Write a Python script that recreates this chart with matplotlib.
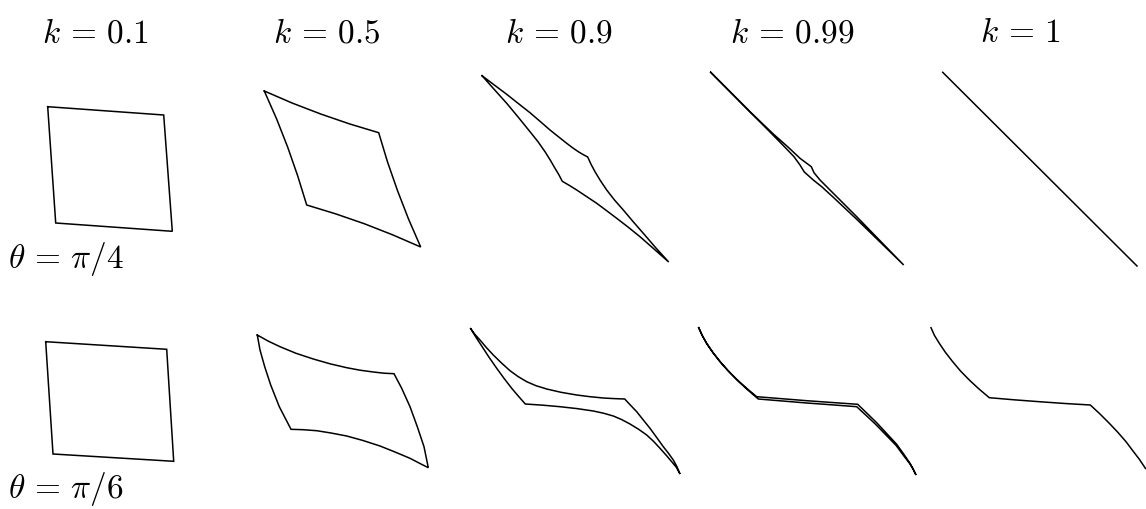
import numpy as np
from matplotlib import pyplot as plt

plt.rcParams["mathtext.fontset"] = "cm"

# column / row labels
k_values = ["0.1", "0.5", "0.9", "0.99", "1"]
theta_values = [r"\pi/4", r"\pi/6"]
label_x = [95, 327, 559, 792, 1020]
label_y = 42
theta_label_y = [268, 498]

# outlines, in image pixels (x, y), y pointing down
# row 1: theta = pi/4
pi4_k01 = [(47.7, 106.7), (163.7, 115.0), (172.3, 231.3), (55.7, 223.0)]
pi4_k05 = [(264.3, 91.0), (292.3, 103.1), (320.7, 114.0), (349.5, 123.9), (378.7, 132.7),
           (387.5, 161.9), (397.5, 190.6), (408.5, 219.0), (420.7, 247.0),
           (392.8, 234.9), (364.5, 223.8), (335.8, 213.9), (306.7, 205.0),
           (297.7, 175.9), (287.7, 147.2), (276.6, 118.9)]
pi4_k09 = [(482.0, 75.7), (494.3, 85.0), (506.7, 94.3), (518.3, 103.5), (530.0, 112.7),
           (540.0, 121.3), (550.0, 130.0), (558.5, 136.8), (566.7, 143.3), (572.5, 147.7),
           (578.3, 151.7), (583.0, 154.5), (587.7, 157.0),
           (591.0, 164.2), (595.0, 171.7), (600.5, 180.8), (606.7, 190.0), (614.5, 200.0),
           (623.3, 210.0), (633.0, 221.5), (643.3, 233.3), (655.5, 247.5), (668.7, 262.0),
           (654.0, 249.0), (640.0, 236.7), (628.0, 227.0), (616.7, 218.3), (606.5, 210.6),
           (596.7, 203.3), (586.5, 196.5), (576.7, 190.0), (569.5, 185.5), (562.3, 181.3),
           (558.8, 174.6), (555.0, 168.3), (550.2, 160.0), (545.0, 151.7), (538.0, 141.7),
           (530.0, 131.7), (518.5, 117.5), (506.7, 103.3), (494.3, 89.5)]
pi4_k099 = [(710.7, 72.3), (750.0, 111.7), (773.3, 134.0), (788.3, 147.3), (800.0, 158.3),
            (811.3, 166.7), (814.0, 172.7), (820.0, 180.0), (833.3, 193.3), (856.7, 216.7),
            (903.7, 265.0),
            (856.7, 219.3), (833.3, 197.3), (821.7, 186.7), (813.3, 180.0), (804.3, 172.0),
            (800.0, 165.0), (794.0, 156.7), (785.0, 147.3), (770.0, 132.0)]
pi4_k1 = [(942.7, 72.3), (1137.0, 266.0)]

# row 2: theta = pi/6
pi6_k01 = [(45.7, 341.7), (166.7, 349.3), (173.7, 461.3), (53.0, 454.0)]
pi6_k05 = [(257.3, 335.0), (268.0, 341.0), (280.0, 346.7), (296.0, 353.3), (313.3, 359.0),
           (330.0, 363.8), (346.7, 367.7), (360.0, 370.2), (373.3, 372.0), (384.0, 373.2),
           (394.0, 373.7),
           (401.7, 388.3), (410.0, 406.7), (417.3, 426.7), (424.0, 446.7), (428.3, 467.7),
           (420.0, 463.5), (410.0, 458.3), (395.0, 452.0), (380.0, 446.0), (363.0, 440.5),
           (346.7, 436.0), (331.0, 433.0), (316.7, 430.7), (303.0, 429.7), (291.0, 429.3),
           (279.3, 406.7), (270.7, 385.0), (264.7, 366.7), (260.0, 350.0)]
pi6_k09 = [(470.7, 328.7), (475.0, 334.5), (480.0, 340.0), (486.5, 347.7), (493.3, 355.0),
           (501.5, 363.0), (510.0, 370.7), (518.0, 376.5), (526.7, 381.7), (536.0, 385.7),
           (546.7, 389.0), (561.0, 392.3), (576.7, 395.0), (590.0, 396.7), (603.3, 398.0),
           (614.0, 398.6), (624.7, 399.0),
           (630.5, 405.2), (636.7, 411.7), (643.3, 420.0), (650.0, 428.3), (656.7, 437.5),
           (663.3, 446.7), (668.5, 453.3), (673.3, 460.0), (677.0, 466.8), (680.0, 474.0),
           (676.5, 467.5), (671.7, 461.7), (666.0, 455.0), (660.0, 448.3), (653.5, 441.3),
           (646.7, 435.0), (638.5, 429.2), (630.0, 424.0), (621.5, 419.5), (613.3, 416.0),
           (603.5, 413.2), (593.3, 411.0), (577.0, 408.6), (560.0, 406.7), (543.0, 405.2),
           (525.3, 404.0),
           (518.5, 396.3), (511.7, 388.3), (504.0, 378.3), (496.7, 368.3), (489.0, 357.2),
           (481.7, 346.0), (476.0, 337.3)]
pi6_k099 = [(698.7, 327.7), (702.3, 335.6), (706.7, 343.3), (713.0, 352.7), (720.0, 361.7),
            (728.0, 370.7), (736.7, 379.3), (746.5, 388.2), (756.7, 396.7), (781.7, 398.7),
            (806.7, 400.7), (832.0, 402.5), (857.7, 404.3), (867.0, 413.3), (876.7, 422.7),
            (886.7, 433.5), (896.7, 444.3), (903.5, 453.8), (910.0, 463.3), (913.3, 469.2),
            (916.0, 475.0),
            (913.3, 469.6), (910.0, 464.0), (903.0, 454.8), (896.0, 445.3), (885.7, 434.7),
            (875.3, 424.0), (866.0, 415.3), (856.7, 406.7), (831.7, 404.8), (806.7, 403.0),
            (782.5, 401.0), (758.3, 399.0), (748.2, 390.3), (738.3, 381.3), (729.3, 372.0),
            (720.7, 362.3), (713.4, 353.2), (706.7, 343.7), (702.5, 336.0)]
pi6_k1 = [(931.0, 327.7), (934.5, 335.5), (939.3, 343.3), (945.5, 352.5), (952.7, 361.7),
          (960.5, 371.0), (969.3, 380.0), (979.0, 389.0), (989.3, 397.7), (1014.0, 399.8),
          (1039.3, 401.7), (1065.0, 403.5), (1090.3, 405.0), (1100.0, 414.0), (1109.3, 423.3),
          (1118.0, 432.5), (1126.0, 441.7), (1133.0, 451.0), (1139.5, 459.5), (1145.5, 468.5)]

closed_shapes = [pi4_k01, pi4_k05, pi4_k09, pi4_k099,
                 pi6_k01, pi6_k05, pi6_k09, pi6_k099]
open_shapes = [pi4_k1, pi6_k1]


fig = plt.figure(figsize=(11.46, 5.09), dpi=100)
ax = fig.add_axes([0, 0, 1, 1])
ax.set_xlim(0, 1146)
ax.set_ylim(509, 0)
ax.axis("off")

for pts in closed_shapes:
    xy = np.array(pts + [pts[0]])
    ax.plot(xy[:, 0], xy[:, 1], color="black", lw=1.1, solid_joinstyle="miter")

for pts in open_shapes:
    xy = np.array(pts)
    ax.plot(xy[:, 0], xy[:, 1], color="black", lw=1.1)

for x, k in zip(label_x, k_values):
    ax.text(x, label_y, rf"$k \,=\, {k}$", ha="center", va="baseline", fontsize=24)

for y, th in zip(theta_label_y, theta_values):
    ax.text(8, y, rf"$\theta \,=\, {th}$", ha="left", va="baseline", fontsize=24)

fig.savefig("out.png", dpi=100)
